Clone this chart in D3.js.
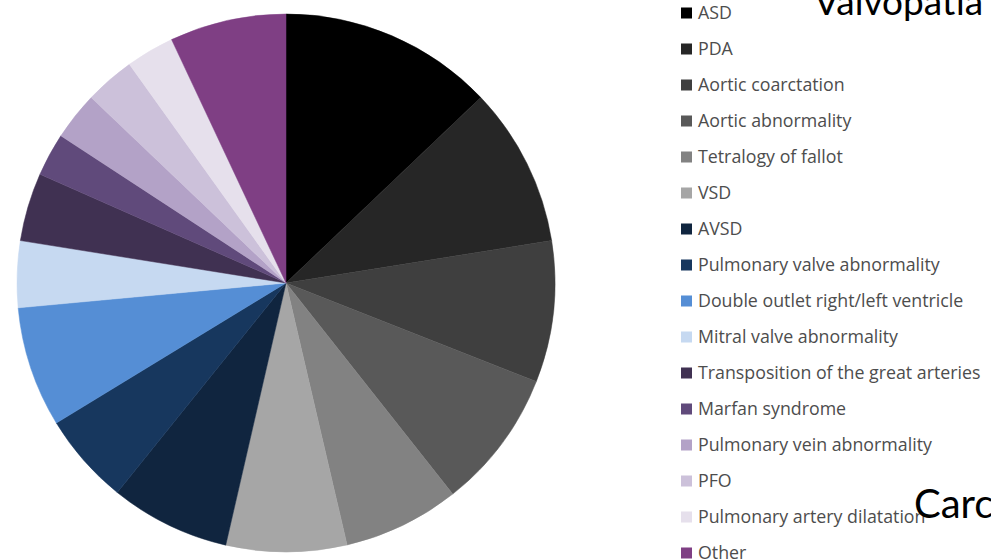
<!DOCTYPE html>
<html>
<head>
<meta charset="utf-8">
<script src="https://cdn.jsdelivr.net/npm/d3@7"></script>
<style>
  html, body { margin: 0; padding: 0; background: #fff; overflow: hidden; }
  svg { display: block; }
</style>
</head>
<body>
<svg id="chart" width="991" height="559"></svg>
<script>
// Congenital heart disease categories (share of cases, %)
const categories = [
  "ASD", "PDA", "Aortic coarctation", "Aortic abnormality", "Tetralogy of fallot",
  "VSD", "AVSD", "Pulmonary valve abnormality", "Double outlet right/left ventricle",
  "Mitral valve abnormality", "Transposition of the great arteries", "Marfan syndrome",
  "Pulmonary vein abnormality", "PFO", "Pulmonary artery dilatation", "Other"
];
const values = [12.9, 9.6, 8.5, 8.4, 7.0, 7.25, 7.2, 5.5, 7.25, 4.0, 4.1, 2.6, 2.9, 3.0, 2.9, 7.0];
const colors = [
  "#000000", "#262626", "#3f3f3f", "#595959", "#828282",
  "#a6a6a6", "#10253f", "#17375e", "#558ed5",
  "#c6d9f1", "#403152", "#604a7b",
  "#b3a2c7", "#ccc1da", "#e6e0ec", "#7f3f84"
];
const titleTop = "Valvopatia";
const titleBottom = "Carc";

const svg = d3.select("#chart");

const color = d3.scaleOrdinal().domain(categories).range(colors);

// Pie
const cx = 286, cy = 283, radius = 269;
const data = categories.map((c, i) => ({ name: c, value: values[i] }));
const pie = d3.pie().value(d => d.value).sort(null);
const arc = d3.arc().innerRadius(0).outerRadius(radius);

svg.append("g")
  .attr("transform", `translate(${cx},${cy})`)
  .selectAll("path")
  .data(pie(data))
  .join("path")
  .attr("d", arc)
  .attr("fill", d => color(d.data.name))
  .attr("stroke", d => color(d.data.name))
  .attr("stroke-width", 0.5);

// Legend
const rowY = d3.scalePoint().domain(categories).range([13, 553]);
const legend = svg.append("g").attr("class", "legend");
const rows = legend.selectAll("g")
  .data(categories)
  .join("g")
  .attr("transform", d => `translate(681,${rowY(d)})`);

rows.append("rect")
  .attr("x", 0).attr("y", -5.5)
  .attr("width", 11).attr("height", 11)
  .attr("fill", d => color(d));

rows.append("text")
  .attr("x", 17).attr("y", 0)
  .attr("dy", "0.36em")
  .attr("font-family", "'Open Sans', sans-serif")
  .attr("font-size", 17.8)
  .attr("fill", "#4d4d4d")
  .text(d => d);

// Slide headings partly outside the frame
svg.append("text")
  .attr("x", 814).attr("y", 15)
  .attr("font-family", "Lato, sans-serif")
  .attr("font-size", 37)
  .attr("fill", "#000")
  .text(titleTop);

svg.append("text")
  .attr("x", 914).attr("y", 518)
  .attr("font-family", "Lato, sans-serif")
  .attr("font-size", 40)
  .attr("fill", "#000")
  .text(titleBottom);
</script>
</body>
</html>
